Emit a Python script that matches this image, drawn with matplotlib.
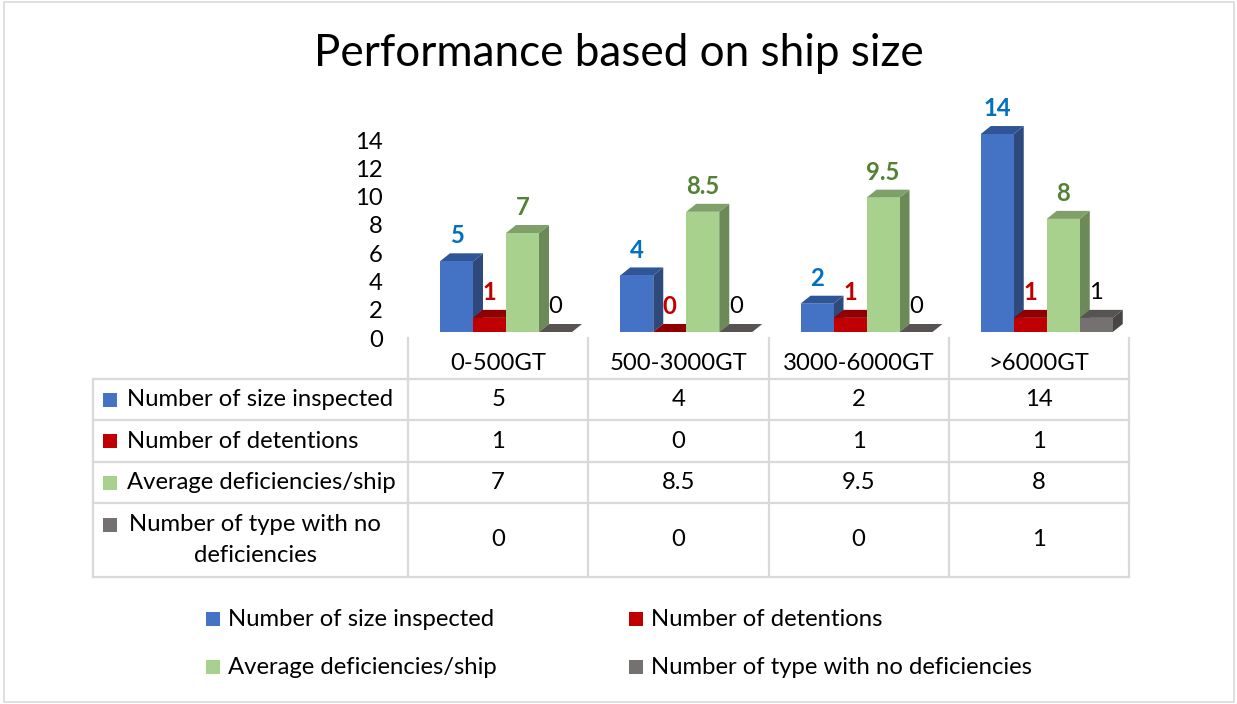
import matplotlib.pyplot as plt
from matplotlib.patches import Polygon, Rectangle
from matplotlib.lines import Line2D

plt.rcParams['font.family'] = ['Lato', 'DejaVu Sans']

#%% Dados

categorias = ['0-500GT', '500-3000GT', '3000-6000GT', '>6000GT']
series = ['Number of size inspected', 'Number of detentions',
          'Average deficiencies/ship', 'Number of type with no deficiencies']
inspecionados = [5, 4, 2, 14]
detencoes = [1, 0, 1, 1]
media_def = [7, 8.5, 9.5, 8]
sem_def = [0, 0, 0, 1]
valores = [inspecionados, detencoes, media_def, sem_def]
ticks_y = [0, 2, 4, 6, 8, 10, 12, 14]

# cores: frente, topo, lateral, rótulo
cores = [('#4472C4', '#2F5597', '#2E4A7D', '#0070C0'),
         ('#C00000', '#900000', '#760000', '#C00000'),
         ('#A9D18E', '#7FA068', '#6B8A57', '#538135'),
         ('#767171', '#575353', '#484545', 'black')]

#%% Figura

W, H = 1237, 704
fig = plt.figure(figsize=(W / 100, H / 100), dpi=100)

# eixo de fundo em pixels (tabela, título, legenda)
bg = fig.add_axes([0, 0, 1, 1])
bg.set_xlim(0, W)
bg.set_ylim(H, 0)
bg.axis('off')

fs = 17.2
cinza = '#D9D9D9'

bg.add_patch(Rectangle((4, 2), 1230, 700, fill=False, ec=cinza, lw=1.2))
bg.text(619, 53, 'Performance based on ship size', ha='center', va='center', fontsize=31.7)

# eixo das barras
x_esq, x_dir, y_base, y_topo = 408, 1129, 332, 90
px_un = 14.14
ax = fig.add_axes([x_esq / W, 1 - y_base / H, (x_dir - x_esq) / W, (y_base - y_topo) / H])
ax.set_xlim(0, 4)
ax.set_ylim(0, (y_base - y_topo) / px_un)
ax.axis('off')

pxu = (x_dir - x_esq) / 4
larg = 33 / pxu
x0 = 32 / pxu
dx = 10 / pxu
dy = 8 / px_un

for j, vals in enumerate(valores):
    cf, ct, cl, cr = cores[j]
    for i, v in enumerate(vals):
        xl = i + x0 + j * larg
        ax.add_patch(Polygon([(xl + larg, 0), (xl + larg + dx, dy), (xl + larg + dx, v + dy), (xl + larg, v)],
                             closed=True, fc=cl, ec='none'))
        ax.add_patch(Polygon([(xl, v), (xl + dx, v + dy), (xl + larg + dx, v + dy), (xl + larg, v)],
                             closed=True, fc=ct, ec='none'))
        if v > 0:
            ax.add_patch(Rectangle((xl, 0), larg, v, fc=cf, ec='none'))
        peso = 'normal' if j == 3 else 'bold'
        ax.annotate(f'{v:g}', (xl + larg / 2, v + dy), xytext=(0, 12.5), textcoords='offset points',
                    ha='center', va='center', fontsize=fs, color=cr, fontweight=peso,
                    annotation_clip=False)

for t in ticks_y:
    ax.text(-25 / pxu, t - dy, str(t), ha='right', va='center', fontsize=fs, clip_on=False)

#%% Tabela de dados

xs = [x_esq + i * pxu for i in range(5)]
ys = [379, 420, 462, 503, 577]
for x in xs:
    bg.add_line(Line2D([x, x], [338, 577], color=cinza, lw=1.6))
bg.add_line(Line2D([93, 93], [379, 577], color=cinza, lw=1.6))
for y in ys:
    bg.add_line(Line2D([93, x_dir], [y, y], color=cinza, lw=1.6))

for i, c in enumerate(categorias):
    bg.text(xs[i] + pxu / 2, 363, c, ha='center', va='center', fontsize=fs)

centros = [(ys[k] + ys[k + 1]) / 2 for k in range(4)]
for k, nome in enumerate(series):
    yc = centros[k]
    if k == 3:
        bg.add_patch(Rectangle((103, 518), 14, 14, fc=cores[k][0], ec='none'))
        bg.text(255, yc, 'Number of type with no\ndeficiencies', ha='center', va='center',
                fontsize=fs, multialignment='center', linespacing=1.6)
    else:
        bg.add_patch(Rectangle((103, yc - 7), 14, 14, fc=cores[k][0], ec='none'))
        bg.text(127, yc, nome, ha='left', va='center', fontsize=fs)
    for i, v in enumerate(valores[k]):
        bg.text(xs[i] + pxu / 2, yc, f'{v:g}', ha='center', va='center', fontsize=fs)

#%% Legenda

pos_leg = [(206, 619), (629, 619), (206, 667), (629, 667)]
for k, nome in enumerate(series):
    lx, ly = pos_leg[k]
    bg.add_patch(Rectangle((lx, ly - 7), 14, 14, fc=cores[k][0], ec='none'))
    bg.text(lx + 22, ly, nome, ha='left', va='center', fontsize=fs)

fig.savefig('out.png', dpi=100)
